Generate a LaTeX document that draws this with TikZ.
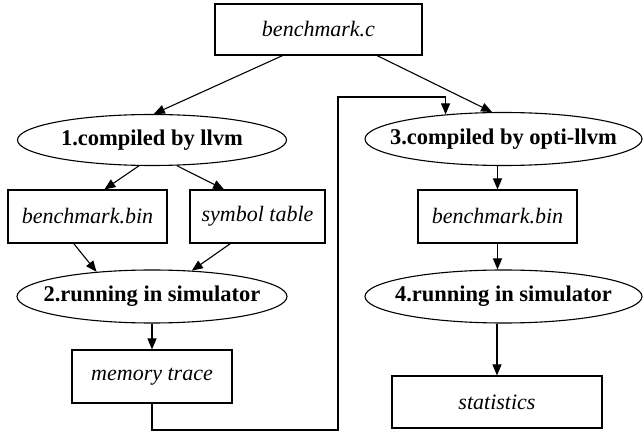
\documentclass[tikz,border=0pt]{standalone}
\usepackage{fontspec}
\setmainfont{Liberation Serif}
\usepackage{tikz}
\usetikzlibrary{shapes.geometric, arrows.meta, positioning, calc}

% keep the ellipse at its given size, whatever the text width
\newcommand{\slim}[1]{\makebox[0pt]{#1}}

\begin{document}
\begin{tikzpicture}[
    x=1pt, y=-1pt,
    file/.style={rectangle, draw, line width=1.1pt, minimum height=53pt, inner sep=0pt, align=center, font=\fontsize{22}{25}\selectfont\itshape},
    stage/.style={ellipse, draw, line width=1.1pt, minimum height=53pt, inner sep=0pt, font=\fontsize{22.5}{25}\selectfont\bfseries},
    arrow/.style={-{Triangle[length=11pt,width=9pt]}, line width=1.1pt}
]
\useasboundingbox (0,0) rectangle (643,435);
% left branch
\node[file, minimum width=207pt, minimum height=51pt] (src) at (318.5,29.5) {benchmark.c};
\node[stage, minimum width=269pt, minimum height=51pt] (comp1) at (152,140) {\slim{1.compiled by llvm}};
\node[file, minimum width=159pt] (bin1) at (87.5,216.5) {benchmark.bin};
\node[file, minimum width=135pt] (symtab) at (257.5,216.5) {symbol table};
\node[stage, minimum width=270pt] (run2) at (152,296.5) {\slim{2.running in simulator}};
\node[file, minimum width=160pt] (trace) at (152,376.5) {memory trace};
% right branch
\node[stage, minimum width=277pt] (comp3) at (503.5,139) {\slim{3.compiled by opti-llvm}};
\node[file, minimum width=159pt] (bin3) at (497.5,216.5) {benchmark.bin};
\node[stage, minimum width=277pt] (run4) at (503.5,296.5) {\slim{4.running in simulator}};
\node[file, minimum width=210pt, minimum height=52pt] (stats) at (497,402) {statistics};
% feedback route
\coordinate (low) at (338,430);
\coordinate (high) at (338,97);

\draw[arrow] (src.216) -- (comp1.86);
\draw[arrow] (src.-24) -- (comp3.113);
\draw[arrow] (comp1.243) -- (bin1.58);
\draw[arrow] (comp1.-46) -- (symtab.141);
\draw[arrow] (bin1.243) -- (run2.156);
\draw[arrow] (symtab.225) -- (run2.33);
\draw[arrow] (run2.south) -- (trace.north);
\draw[arrow] (trace.south) |- (low) -- (high) -| (comp3.157);
\draw[arrow] (comp3.south -| bin3.north) -- (bin3.north);
\draw[arrow] (bin3.south) -- (bin3.south |- run4.north);
\draw[arrow] (run4.south -| stats.north) -- (stats.north);
\end{tikzpicture}
\end{document}
